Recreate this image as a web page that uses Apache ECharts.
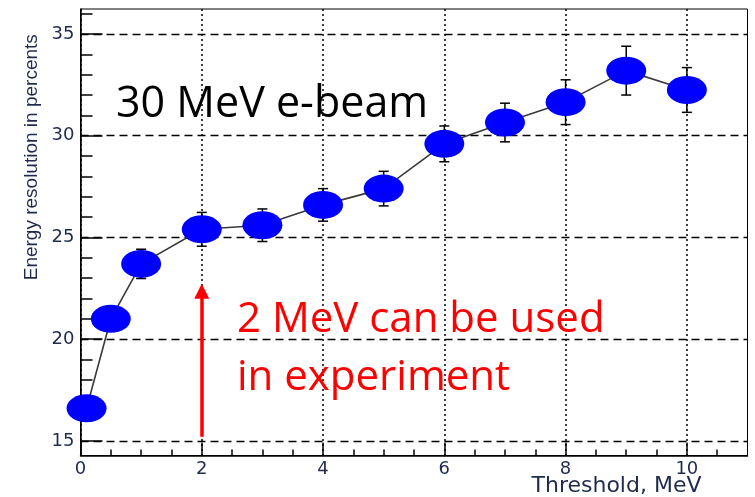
<!DOCTYPE html>
<html>
<head>
<meta charset="utf-8">
<script src="https://cdn.jsdelivr.net/npm/echarts@6/dist/echarts.min.js"></script>
<style>
  html, body { margin: 0; padding: 0; background: #ffffff; }
  #chart { width: 755px; height: 497px; }
</style>
</head>
<body>
<div id="chart"></div>
<script>
// Energy resolution vs. detection threshold, 30 MeV electron beam
const thresholds = [0.1, 0.5, 1, 2, 3, 4, 5, 6, 7, 8, 9, 10];
const resolution = [16.6, 21.0, 23.7, 25.4, 25.6, 26.6, 27.4, 29.6, 30.65, 31.65, 33.2, 32.25];
const resolutionErr = [0.5, 0.5, 0.72, 0.83, 0.8, 0.8, 0.85, 0.88, 0.95, 1.1, 1.2, 1.1];

// Axis ticks
const xMajorTicks = [0, 2, 4, 6, 8, 10];
const xMinorTicks = [0.5, 1, 1.5, 2.5, 3, 3.5, 4.5, 5, 5.5, 6.5, 7, 7.5, 8.5, 9, 9.5, 10.5];
const yMajorTicks = [15, 20, 25, 30, 35];
const yMinorTicks = [16, 17, 18, 19, 21, 22, 23, 24, 26, 27, 28, 29, 31, 32, 33, 34, 36];

// Annotation arrow at the chosen threshold
const arrowX = 2;
const arrowFrom = 15.2;
const arrowTo = 22.35;

const xRange = [0, 11];
const yRange = [14.28, 36.23];

const tickFont = { fontFamily: 'DejaVu Sans', fontSize: 18, color: '#1f2a4d' };

const chart = echarts.init(document.getElementById('chart'), null, { renderer: 'canvas' });

chart.setOption({
  animation: false,
  backgroundColor: '#ffffff',
  grid: {
    left: 80.5, right: 7.5, top: 9, bottom: 41.5,
    outerBoundsMode: 'none',
    containLabel: false,
    show: true, borderColor: '#000', borderWidth: 1, backgroundColor: 'transparent'
  },
  xAxis: [
    {
      type: 'value', min: xRange[0], max: xRange[1], position: 'bottom',
      axisLine: { show: true, onZero: false, lineStyle: { color: '#000', width: 1.5 } },
      axisTick: { show: true, inside: true, length: 13, customValues: xMajorTicks, lineStyle: { color: '#000', width: 1.5 } },
      axisLabel: { show: true, customValues: xMajorTicks, margin: 5, ...tickFont },
      splitLine: { show: true, lineStyle: { color: '#000', width: 1.5, type: [2, 3] } },
      name: 'Threshold, MeV',
      nameLocation: 'middle',
      nameGap: 20,
      nameMoveOverlap: false,
      nameTextStyle: {
        fontFamily: 'DejaVu Sans', fontSize: 22, color: '#1f2a4d',
        verticalAlign: 'top', padding: [0, 0, 0, 405]
      }
    },
    {
      type: 'value', min: xRange[0], max: xRange[1], position: 'bottom',
      axisLine: { show: false },
      axisTick: { show: true, inside: true, length: 6, customValues: xMinorTicks, lineStyle: { color: '#000', width: 1.5 } },
      axisLabel: { show: false },
      splitLine: { show: false }
    }
  ],
  yAxis: [
    {
      type: 'value', min: yRange[0], max: yRange[1], position: 'left',
      axisLine: { show: true, onZero: false, lineStyle: { color: '#000', width: 1.5 } },
      axisTick: { show: true, inside: true, length: 22, customValues: yMajorTicks, lineStyle: { color: '#000', width: 1.5 } },
      axisLabel: { show: true, customValues: yMajorTicks, margin: 6, ...tickFont },
      splitLine: { show: true, lineStyle: { color: '#000', width: 1.3, type: [8, 5] } },
      name: 'Energy resolution in percents',
      nameLocation: 'middle',
      nameGap: 39,
      nameMoveOverlap: false,
      nameTextStyle: {
        fontFamily: 'Liberation Sans', fontSize: 19, color: '#1f2a4d',
        padding: [0, 0, 0, 150]
      }
    },
    {
      type: 'value', min: yRange[0], max: yRange[1], position: 'left',
      axisLine: { show: false },
      axisTick: { show: true, inside: true, length: 12, customValues: yMinorTicks, lineStyle: { color: '#000', width: 1.5 } },
      axisLabel: { show: false },
      splitLine: { show: false }
    }
  ],
  series: [
    {
      type: 'line',
      xAxisIndex: 0, yAxisIndex: 0,
      data: thresholds.map((x, i) => [x, resolution[i]]),
      showSymbol: false,
      lineStyle: { color: '#3a3a3a', width: 1.6 },
      z: 2,
      markLine: {
        silent: true,
        symbol: ['none', 'triangle'],
        symbolSize: [15, 15],
        label: { show: false },
        lineStyle: { color: '#ff0000', width: 3.5, type: 'solid' },
        data: [[{ coord: [arrowX, arrowFrom] }, { coord: [arrowX, arrowTo] }]]
      }
    },
    {
      type: 'custom',
      xAxisIndex: 0, yAxisIndex: 0,
      data: thresholds.map((x, i) => [x, resolution[i] - resolutionErr[i], resolution[i] + resolutionErr[i]]),
      encode: { x: 0, y: [1, 2] },
      z: 3,
      renderItem: function (params, api) {
        const x = api.value(0);
        const lo = api.coord([x, api.value(1)]);
        const hi = api.coord([x, api.value(2)]);
        const cap = 5;
        const style = { stroke: '#000', lineWidth: 1.5 };
        return {
          type: 'group',
          children: [
            { type: 'line', shape: { x1: lo[0], y1: lo[1], x2: hi[0], y2: hi[1] }, style: style },
            { type: 'line', shape: { x1: lo[0] - cap, y1: lo[1], x2: lo[0] + cap, y2: lo[1] }, style: style },
            { type: 'line', shape: { x1: hi[0] - cap, y1: hi[1], x2: hi[0] + cap, y2: hi[1] }, style: style }
          ]
        };
      }
    },
    {
      type: 'scatter',
      xAxisIndex: 0, yAxisIndex: 0,
      data: thresholds.map((x, i) => [x, resolution[i]]),
      symbol: 'circle',
      symbolSize: [40, 28],
      itemStyle: { color: '#0000ff', opacity: 1 },
      z: 4
    }
  ],
  graphic: [
    {
      type: 'text', left: 116, top: 83, z: 10,
      style: { text: '30 MeV e-beam', fontFamily: 'Open Sans', fontSize: 43, fill: '#000' }
    },
    {
      type: 'text', left: 237, top: 299, z: 10,
      style: { text: '2 MeV can be used', fontFamily: 'Open Sans', fontSize: 42, fill: '#ff0000' }
    },
    {
      type: 'text', left: 237, top: 357, z: 10,
      style: { text: 'in experiment', fontFamily: 'Open Sans', fontSize: 42, fill: '#ff0000' }
    }
  ]
});
</script>
</body>
</html>
